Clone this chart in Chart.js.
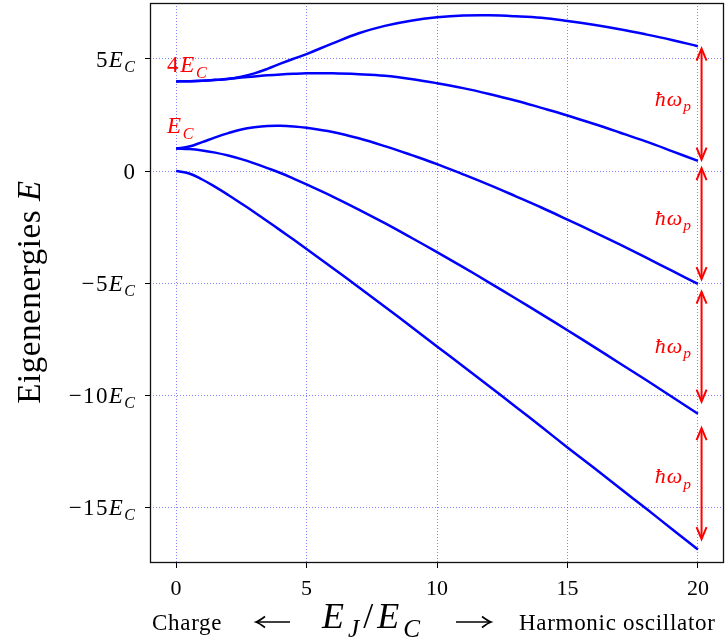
<!DOCTYPE html>
<html><head><meta charset="utf-8">
<script src="https://cdn.jsdelivr.net/npm/chart.js@4/dist/chart.umd.min.js"></script>
<style>html,body{margin:0;padding:0;background:#fff}canvas{display:block}</style>
</head><body>
<canvas id="c" width="727" height="644"></canvas>
<script>
// E_J / E_C values
const ejValues = [0,0.5,1,1.5,2,2.5,3,3.5,4,4.5,5,6,7,8,9,10,11,12,13,14,15,16,17,18,19,20];
// eigenenergies in units of E_C
const level0 = [0,-0.11,-0.38,-0.71,-1.07,-1.45,-1.84,-2.24,-2.65,-3.06,-3.48,-4.33,-5.19,-6.06,-6.94,-7.83,-8.72,-9.61,-10.51,-11.42,-12.34,-13.24,-14.15,-15.06,-15.98,-16.90];
const level1 = [1,0.98,0.92,0.82,0.69,0.53,0.34,0.13,-0.09,-0.34,-0.60,-1.14,-1.72,-2.33,-2.97,-3.62,-4.29,-4.98,-5.68,-6.39,-7.11,-7.84,-8.58,-9.32,-10.08,-10.84];
const level2 = [1,1.09,1.29,1.50,1.69,1.85,1.95,2.01,2.02,1.99,1.93,1.74,1.46,1.11,0.72,0.31,-0.15,-0.62,-1.12,-1.63,-2.17,-2.72,-3.28,-3.86,-4.45,-5.04];
const level3 = [4,4.01,4.03,4.07,4.12,4.17,4.22,4.27,4.31,4.34,4.36,4.36,4.32,4.25,4.11,3.92,3.70,3.44,3.15,2.82,2.48,2.11,1.72,1.32,0.89,0.45];
const level4 = [4,4.01,4.03,4.06,4.11,4.21,4.36,4.56,4.79,5.01,5.22,5.70,6.15,6.48,6.71,6.86,6.94,6.95,6.91,6.84,6.70,6.53,6.33,6.10,5.85,5.57];
const levels = [level0, level1, level2, level3, level4];

const xTickValues = [0,5,10,15,20];
const xTickLabels = ['0','5','10','15','20'];
const yTickValues = [5,0,-5,-10,-15];
const yTickLabels = ['5E_C','0','\u22125E_C','\u221210E_C','\u221215E_C'];

// hbar*omega_p spacing arrows (energies at top and bottom of each arrow)
const arrowTops = [5.46, 0.13, -5.39, -11.48];
const arrowBottoms = [0.51, -4.83, -10.30, -16.43];
const arrowLabel = '\u0127\u03C9_p';
const arrowLabelBaselines = [2.90, -2.39, -8.11, -13.94];
const startLabels = ['4E_C', 'E_C'];
const startLabelBaselines = [4.41, 1.69];

const FAM = '"Liberation Serif", "DejaVu Serif", serif';

function mathRuns(s){
  const runs=[];
  for(let i=0;i<s.length;i++){
    const ch=s[i];
    if(ch==='_'){ runs.push({t:s[i+1], it:true, sub:true}); i++; continue; }
    runs.push({t:ch, it:/[A-Za-z\u0127\u03C9]/.test(ch), sub:false});
  }
  return runs;
}
function drawMath(ctx, s, x, y, size, align, color, spacing){
  const runs = mathRuns(s);
  const sub = size*0.7;
  spacing = spacing||0;
  const ws=[]; let w=0;
  runs.forEach(r=>{ ctx.font=(r.it?'italic ':'')+(r.sub?sub:size)+'px '+FAM; const m=ctx.measureText(r.t).width+spacing; ws.push(m); w+=m; });
  w -= spacing;
  let cx = align==='right' ? x-w : (align==='center' ? x-w/2 : x);
  ctx.fillStyle=color; ctx.textAlign='left'; ctx.textBaseline='alphabetic';
  runs.forEach((r,i)=>{
    ctx.font=(r.it?'italic ':'')+(r.sub?sub:size)+'px '+FAM;
    ctx.fillText(r.t, cx, r.sub ? y+size*0.24 : y);
    cx += ws[i];
  });
}
function dblArrow(ctx,x,y1,y2,color,lw,hl,hw){
  ctx.save();
  ctx.strokeStyle=color; ctx.lineWidth=lw; ctx.lineJoin='miter'; ctx.lineCap='butt';
  ctx.beginPath(); ctx.moveTo(x,y1+1); ctx.lineTo(x,y2-1); ctx.stroke();
  ctx.beginPath();
  ctx.moveTo(x-hw,y1+hl); ctx.lineTo(x,y1); ctx.lineTo(x+hw,y1+hl);
  ctx.moveTo(x-hw,y2-hl); ctx.lineTo(x,y2); ctx.lineTo(x+hw,y2-hl);
  ctx.stroke();
  ctx.restore();
}
function hArrow(ctx,x1,x2,y,dir){
  ctx.save();
  ctx.strokeStyle='#000'; ctx.lineWidth=1.6;
  ctx.beginPath(); ctx.moveTo(x1,y); ctx.lineTo(x2,y); ctx.stroke();
  const tip = dir<0 ? x1 : x2;
  const s = dir<0 ? 1 : -1;
  ctx.beginPath();
  ctx.moveTo(tip+s*9,y-5.5); ctx.quadraticCurveTo(tip+s*3,y-1,tip,y);
  ctx.quadraticCurveTo(tip+s*3,y+1,tip+s*9,y+5.5);
  ctx.stroke();
  ctx.restore();
}

const annot = {
  id:'annot',
  afterDraw(chart){
    const ctx = chart.ctx, xs = chart.scales.x, ys = chart.scales.y, a = chart.chartArea;
    ctx.save();
    // frame
    ctx.strokeStyle='#111'; ctx.lineWidth=1.3;
    ctx.strokeRect(a.left+0.5, a.top+0.5, a.right-a.left-1, a.bottom-a.top-1);
    // y tick labels
    yTickValues.forEach((v,i)=>{
      drawMath(ctx, yTickLabels[i], 135, ys.getPixelForValue(v)+7.5, 23, 'right', '#000', 1.4);
    });
    // y title
    ctx.save();
    ctx.translate(40, 292); ctx.rotate(-Math.PI/2);
    ctx.fillStyle='#000'; ctx.textBaseline='alphabetic';
    const t1='Eigenenergies ';
    ctx.letterSpacing='0.6px';
    ctx.font='33px '+FAM;
    const w1=ctx.measureText(t1).width;
    ctx.font='italic 33px '+FAM;
    const w2=ctx.measureText('E').width;
    const x0=-(w1+w2)/2;
    ctx.font='33px '+FAM; ctx.textAlign='left';
    ctx.fillText(t1, x0, 0);
    ctx.font='italic 33px '+FAM;
    ctx.fillText('E', x0+w1, 0);
    ctx.letterSpacing='0px';
    ctx.restore();
    // x title
    ctx.save();
    ctx.fillStyle='#000'; ctx.textBaseline='alphabetic'; ctx.textAlign='left';
    ctx.letterSpacing='0.7px';
    ctx.font='23px '+FAM;
    ctx.fillText('Charge', 152, 630);
    ctx.fillText('Harmonic oscillator', 519, 630);
    ctx.letterSpacing='0px';
    ctx.restore();
    hArrow(ctx, 256, 290, 622, -1);
    hArrow(ctx, 456, 491, 622, 1);
    drawMath(ctx, 'E_J/E_C', 322, 628, 36, 'left', '#000', 4);
    // red labels
    startLabels.forEach((s,i)=>{
      drawMath(ctx, s, xs.getPixelForValue(-0.35), ys.getPixelForValue(startLabelBaselines[i]), 23, 'left', '#ff0000', 1.8);
    });
    const ax = xs.getPixelForValue(20.14);
    arrowTops.forEach((t,i)=>{
      dblArrow(ctx, ax, ys.getPixelForValue(t), ys.getPixelForValue(arrowBottoms[i]), '#ff0000', 2, 12, 5);
      drawMath(ctx, arrowLabel, xs.getPixelForValue(19.73), ys.getPixelForValue(arrowLabelBaselines[i]), 22, 'right', '#ff0000', 1);
    });
    ctx.restore();
  }
};

new Chart(document.getElementById('c'), {
  type:'line',
  data:{
    datasets: levels.map(arr=>({
      data: ejValues.map((x,i)=>({x:x, y:arr[i]})),
      borderColor:'#0000ff', borderWidth:2.5, pointRadius:0, fill:false,
      tension:0.4
    }))
  },
  options:{
    responsive:false, animation:false, devicePixelRatio:1,
    layout:{padding:{top:3,right:3,left:0,bottom:0}},
    plugins:{legend:{display:false}, tooltip:{enabled:false}},
    scales:{
      x:{
        type:'linear', min:-1, max:21,
        afterBuildTicks:s=>{ s.ticks = xTickValues.map(v=>({value:v})); },
        afterFit:s=>{ s.height = 81; },
        grid:{color:'rgba(90,90,255,0.75)', lineWidth:1, tickColor:'#000', tickLength:5, tickBorderDash:[], tickWidth:1},
        border:{display:false, dash:[1,2]},
        ticks:{font:{family:FAM, size:22}, color:'#000', padding:8, maxRotation:0, autoSkip:false,
          callback:v=>xTickLabels[xTickValues.indexOf(v)]}
      },
      y:{
        type:'linear', min:-17.5, max:7.5,
        afterBuildTicks:s=>{ s.ticks = yTickValues.map(v=>({value:v})); },
        afterFit:s=>{ s.width = 150; },
        grid:{color:'rgba(90,90,255,0.75)', lineWidth:1, tickColor:'#000', tickLength:5, tickBorderDash:[], tickWidth:1},
        border:{display:false, dash:[1,2]},
        ticks:{display:false}
      }
    }
  },
  plugins:[annot]
});
</script>
</body></html>
